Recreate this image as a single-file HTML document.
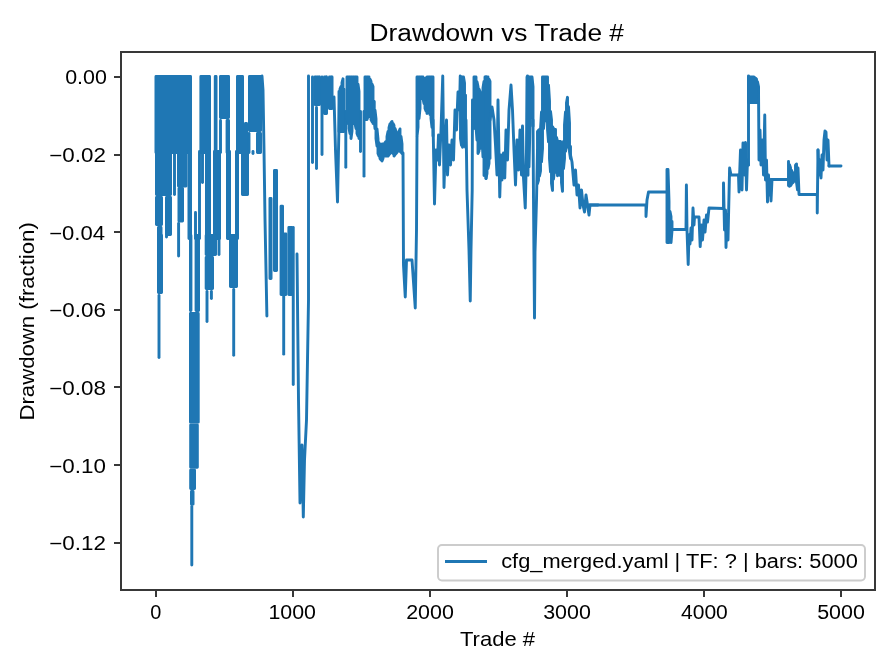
<!DOCTYPE html>
<html><head><meta charset="utf-8"><title>Drawdown vs Trade #</title><style>html,body{margin:0;padding:0;background:#fff;overflow:hidden}svg{display:block;will-change:transform}.s{fill:none;stroke:#1f77b4;stroke-width:2.92;stroke-linecap:round;stroke-linejoin:round}</style></head><body>
<svg width="896" height="672" viewBox="0 0 896 672">
<rect width="896" height="672" fill="#fff"/>
<g fill="#1f77b4" stroke="none">
<path class="s" d="M155.96 76.46 L155.96 152.54 L156.96 152.54 L156.96 76.46 L157.96 76.46 L157.96 152.54 L158.96 152.54 L158.96 76.46 L159.96 76.46 L159.96 152.54 L160.96 152.54 L160.96 76.46 L161.96 76.46 L161.96 152.54 L162.96 152.54 L162.96 76.46 L163.96 76.46 L163.96 152.54 L164.96 152.54 L164.96 76.46 L165.96 76.46 L165.96 152.54 L166.96 152.54 L166.96 76.46 L167.96 76.46 L167.96 152.54 L168.96 152.54 L168.96 76.46 L169.96 76.46 L169.96 152.54 L170.96 152.54 L170.96 76.46 L171.96 76.46 L171.96 152.54 L172.96 152.54 L172.96 76.46 L173.96 76.46 L173.96 152.54 L174.96 152.54 L174.96 76.46 L175.96 76.46 L175.96 152.54 L176.96 152.54 L176.96 76.46 L177.96 76.46 L177.96 152.54 L178.96 152.54 L178.96 76.46 L179.96 76.46 L179.96 152.54 L180.96 152.54 L180.96 76.46 L181.96 76.46 L181.96 152.54 L182.96 152.54 L182.96 76.46 L183.96 76.46 L183.96 152.54 L184.96 152.54 L184.96 76.46 L185.96 76.46 L185.96 152.54 L186.96 152.54 L186.96 76.46 L187.96 76.46 L187.96 152.54 L188.96 152.54 L188.96 76.46 L189.96 76.46 L189.96 152.54 L190.54 152.54 L190.54 76.46"/>
<path class="s" d="M200.86 76.46 L200.86 152.54 L201.86 152.54 L201.86 76.46 L202.86 76.46 L202.86 152.54 L203.86 152.54 L203.86 76.46 L204.86 76.46 L204.86 152.54 L205.86 152.54 L205.86 76.46 L206.86 76.46 L206.86 152.54 L207.86 152.54 L207.86 76.46 L208.86 76.46 L208.86 152.54 L209.54 152.54 L209.54 76.46"/>
<path class="s" d="M215.26 76.46 L215.26 152.54 L216.04 152.54 L216.04 76.46"/>
<path class="s" d="M220.46 76.46 L220.46 117.54 L221.46 117.54 L221.46 76.46 L222.46 76.46 L222.46 117.54 L223.46 117.54 L223.46 76.46 L224.46 76.46 L224.46 117.54 L225.46 117.54 L225.46 76.46 L226.46 76.46 L226.46 117.54 L227.46 117.54 L227.46 76.46 L228.46 76.46 L228.46 117.54 L228.54 117.54 L228.54 76.46"/>
<path class="s" d="M220.50 120.45V152.55"/>
<path class="s" d="M227.06 120.46 L227.06 152.54 L228.06 152.54 L228.06 120.46 L228.54 120.46 L228.54 152.54"/>
<path class="s" d="M237.46 76.46 L237.46 152.54 L238.46 152.54 L238.46 76.46 L239.46 76.46 L239.46 152.54 L240.46 152.54 L240.46 76.46 L241.46 76.46 L241.46 152.54 L242.46 152.54 L242.46 76.46 L242.54 76.46 L242.54 152.54"/>
<path class="s" d="M245.46 123.46 L245.46 152.54 L246.46 152.54 L246.46 123.46 L246.54 123.46 L246.54 152.54"/>
<path class="s" d="M249.46 76.46 L249.46 130.54 L250.46 130.54 L250.46 76.46 L251.46 76.46 L251.46 130.54 L252.46 130.54 L252.46 76.46 L253.46 76.46 L253.46 130.54 L254.46 130.54 L254.46 76.46 L255.46 76.46 L255.46 130.54 L256.46 130.54 L256.46 76.46 L257.46 76.46 L257.46 130.54 L258.46 130.54 L258.46 76.46 L259.46 76.46 L259.46 130.54 L260.46 130.54 L260.46 76.46 L260.54 76.46 L260.54 130.54"/>
<path class="s" d="M249.00 133.45V152.55"/>
<path class="s" d="M257.46 133.46 L257.46 152.54 L258.46 152.54 L258.46 133.46 L259.46 133.46 L259.46 152.54 L260.46 152.54 L260.46 133.46 L260.54 133.46 L260.54 152.54"/>
<path class="s" d="M156.46 151.46 L156.46 194.54 L157.46 194.54 L157.46 151.46 L158.46 151.46 L158.46 194.54 L159.46 194.54 L159.46 151.46 L160.46 151.46 L160.46 194.54 L161.46 194.54 L161.46 151.46 L162.46 151.46 L162.46 194.54 L163.46 194.54 L163.46 151.46 L164.46 151.46 L164.46 194.54 L165.46 194.54 L165.46 151.46 L166.46 151.46 L166.46 194.54 L167.46 194.54 L167.46 151.46 L168.46 151.46 L168.46 194.54 L169.46 194.54 L169.46 151.46 L170.46 151.46 L170.46 194.54 L170.54 194.54 L170.54 151.46"/>
<path class="s" d="M156.46 197.46 L156.46 224.54 L157.46 224.54 L157.46 197.46 L158.46 197.46 L158.46 224.54 L159.46 224.54 L159.46 197.46 L160.46 197.46 L160.46 224.54 L161.46 224.54 L161.46 197.46 L161.54 197.46 L161.54 224.54"/>
<path class="s" d="M158.46 227.46 L158.46 238.54 L159.46 238.54 L159.46 227.46 L160.46 227.46 L160.46 238.54 L161.04 238.54 L161.04 227.46"/>
<path class="s" d="M166.46 197.46 L166.46 234.54 L167.46 234.54 L167.46 197.46 L168.46 197.46 L168.46 234.54 L169.46 234.54 L169.46 197.46 L170.46 197.46 L170.46 234.54 L170.54 234.54 L170.54 197.46"/>
<path class="s" d="M174.50 151.45V194.55"/>
<path class="s" d="M178.46 151.46 L178.46 186.04 L179.46 186.04 L179.46 151.46 L180.46 151.46 L180.46 186.04 L181.46 186.04 L181.46 151.46 L182.46 151.46 L182.46 186.04 L183.46 186.04 L183.46 151.46 L184.46 151.46 L184.46 186.04 L185.46 186.04 L185.46 151.46 L186.04 151.46 L186.04 186.04"/>
<path class="s" d="M178.96 188.46 L178.96 221.04 L179.96 221.04 L179.96 188.46 L180.96 188.46 L180.96 221.04 L181.96 221.04 L181.96 188.46 L182.54 188.46 L182.54 221.04"/>
<path class="s" d="M178.60 223.45V255.95"/>
<path class="s" d="M188.96 151.46 L188.96 238.54 L189.96 238.54 L189.96 151.46 L190.54 151.46 L190.54 238.54"/>
<path class="s" d="M195.50 212.45V238.55"/>
<path class="s" d="M199.50 151.45V238.55"/>
<path class="s" d="M202.50 151.45V182.55"/>
<path class="s" d="M206.46 151.46 L206.46 238.54 L207.46 238.54 L207.46 151.46 L208.46 151.46 L208.46 238.54 L209.46 238.54 L209.46 151.46 L209.54 151.46 L209.54 238.54"/>
<path class="s" d="M214.46 151.46 L214.46 238.54 L215.46 238.54 L215.46 151.46 L216.46 151.46 L216.46 238.54 L217.46 238.54 L217.46 151.46 L218.46 151.46 L218.46 238.54 L219.46 238.54 L219.46 151.46 L219.54 151.46 L219.54 238.54"/>
<path class="s" d="M227.46 151.46 L227.46 238.54 L228.46 238.54 L228.46 151.46 L229.46 151.46 L229.46 238.54 L229.54 238.54 L229.54 151.46"/>
<path class="s" d="M236.46 151.46 L236.46 238.54 L237.46 238.54 L237.46 151.46 L237.54 151.46 L237.54 238.54"/>
<path class="s" d="M242.46 151.46 L242.46 194.54 L243.46 194.54 L243.46 151.46 L244.46 151.46 L244.46 194.54 L245.46 194.54 L245.46 151.46 L246.46 151.46 L246.46 194.54 L247.46 194.54 L247.46 151.46 L247.54 151.46 L247.54 194.54"/>
<path class="s" d="M253.00 151.45V153.55"/>
<path class="s" d="M158.46 235.46 L158.46 292.54 L159.46 292.54 L159.46 235.46 L160.46 235.46 L160.46 292.54 L161.46 292.54 L161.46 235.46 L161.54 235.46 L161.54 292.54"/>
<path class="s" d="M159.00 295.45V357.55"/>
<path class="s" d="M166.50 235.45V237.05"/>
<path class="s" d="M190.46 235.46 L190.46 310.54 L190.94 310.54 L190.94 235.46"/>
<path class="s" d="M196.06 235.46 L196.06 310.54 L197.06 310.54 L197.06 235.46 L198.06 235.46 L198.06 310.54 L198.54 310.54 L198.54 235.46"/>
<path class="s" d="M190.46 313.46 L190.46 422.14 L191.46 422.14 L191.46 313.46 L192.46 313.46 L192.46 422.14 L193.46 422.14 L193.46 313.46 L194.46 313.46 L194.46 422.14 L195.46 422.14 L195.46 313.46 L196.46 313.46 L196.46 422.14 L197.46 422.14 L197.46 313.46 L198.24 313.46 L198.24 422.14"/>
<path class="s" d="M190.66 425.06 L190.66 467.34 L191.66 467.34 L191.66 425.06 L192.66 425.06 L192.66 467.34 L193.66 467.34 L193.66 425.06 L194.66 425.06 L194.66 467.34 L195.66 467.34 L195.66 425.06 L196.66 425.06 L196.66 467.34 L197.34 467.34 L197.34 425.06"/>
<path class="s" d="M190.66 470.26 L190.66 488.54 L191.66 488.54 L191.66 470.26 L192.66 470.26 L192.66 488.54 L193.66 488.54 L193.66 470.26 L194.54 470.26 L194.54 488.54"/>
<path class="s" d="M191.46 491.46 L191.46 504.14 L192.46 504.14 L192.46 491.46 L193.04 491.46 L193.04 504.14"/>
<path class="s" d="M191.80 506.45V564.95"/>
<path class="s" d="M206.16 235.46 L206.16 254.54 L207.16 254.54 L207.16 235.46 L208.16 235.46 L208.16 254.54 L209.16 254.54 L209.16 235.46 L210.16 235.46 L210.16 254.54 L211.16 254.54 L211.16 235.46 L212.16 235.46 L212.16 254.54 L213.16 254.54 L213.16 235.46 L214.16 235.46 L214.16 254.54 L215.16 254.54 L215.16 235.46 L215.54 235.46 L215.54 254.54"/>
<path class="s" d="M206.16 257.46 L206.16 288.54 L207.16 288.54 L207.16 257.46 L208.16 257.46 L208.16 288.54 L209.16 288.54 L209.16 257.46 L210.16 257.46 L210.16 288.54 L211.16 288.54 L211.16 257.46 L212.16 257.46 L212.16 288.54 L212.54 288.54 L212.54 257.46"/>
<path class="s" d="M207.00 291.45V321.55"/>
<path class="s" d="M211.40 291.45V298.55"/>
<path class="s" d="M219.00 235.45V254.55"/>
<path class="s" d="M230.46 235.46 L230.46 286.54 L231.46 286.54 L231.46 235.46 L232.46 235.46 L232.46 286.54 L233.46 286.54 L233.46 235.46 L234.46 235.46 L234.46 286.54 L235.46 286.54 L235.46 235.46 L236.46 235.46 L236.46 286.54 L236.54 286.54 L236.54 235.46"/>
<path class="s" d="M233.70 289.45V355.35"/>
<path class="s" d="M262 76 L263 90 L264 150 L265 219 L266.9 316"/>
<path class="s" d="M269.96 198.46 L269.96 278.54 L270.96 278.54 L270.96 198.46 L271.04 198.46 L271.04 278.54"/>
<path class="s" d="M274.46 170.46 L274.46 270.54 L275.46 270.54 L275.46 170.46 L276.46 170.46 L276.46 270.54 L276.54 270.54 L276.54 170.46"/>
<path class="s" d="M281.06 206.16 L281.06 294.54 L282.06 294.54 L282.06 206.16 L282.54 206.16 L282.54 294.54"/>
<path class="s" d="M284.46 234.06 L284.46 294.54 L285.46 294.54 L285.46 234.06 L285.94 234.06 L285.94 294.54"/>
<path class="s" d="M288.86 227.46 L288.86 294.54 L289.86 294.54 L289.86 227.46 L290.86 227.46 L290.86 294.54 L291.54 294.54 L291.54 227.46"/>
<path class="s" d="M283.70 291.45V354.15"/>
<path class="s" d="M290.70 227.45V288.55"/>
<path class="s" d="M293.25 227.45V384.55"/>
<path class="s" d="M297 254 L298.5 400 L300 503 L301 470 L302 445 L303.3 517 L304.5 460 L306.5 420 L308.5 300 L308.5 76"/>
<path class="s" d="M312.50 76.95V162.55"/>
<path class="s" d="M314.96 76.96 L314.96 104.54 L315.96 104.54 L315.96 76.96 L316.96 76.96 L316.96 104.54 L317.96 104.54 L317.96 76.96 L318.96 76.96 L318.96 104.54 L319.54 104.54 L319.54 76.96"/>
<path class="s" d="M316.50 107.45V168.55"/>
<path class="s" d="M322.00 76.95V154.55"/>
<path class="s" d="M324.46 76.96 L324.46 113.54 L325.46 113.54 L325.46 76.96 L326.46 76.96 L326.46 113.54 L326.54 113.54 L326.54 76.96"/>
<path class="s" d="M329.46 76.96 L329.46 108.54 L330.46 108.54 L330.46 76.96 L331.46 76.96 L331.46 108.54 L332.04 108.54 L332.04 76.96"/>
<path class="s" d="M334 97 L335.5 150 L337.5 202 L338.5 150 L339.5 100"/>
<path class="s" d="M339.00 91.46 L339.00 131.54 L340.00 131.54 L340.00 88.96 L341.00 86.46 L341.00 131.54 L342.00 131.54 L342.00 82.66 L343.00 78.86 L343.00 131.54 L344.00 131.54 L344.00 89.21"/>
<path class="s" d="M345.80 111.45V167.25"/>
<path class="s" d="M347.00 76.96 L347.00 118.54 L348.00 123.54 L348.00 76.96 L349.00 76.96 L349.00 128.54 L350.00 133.54 L350.00 76.96 L351.00 76.96 L351.00 138.54 L352.00 131.04 L352.00 76.96 L353.00 76.96 L353.00 123.54 L354.00 123.54 L354.00 76.96 L355.00 76.96 L355.00 123.54 L356.00 128.54 L356.00 76.96 L357.00 76.96 L357.00 133.54 L358.00 136.04 L358.00 84.21 L359.00 91.46 L359.00 138.54"/>
<path class="s" d="M360.50 111.45V151.55"/>
<path class="s" d="M364.00 111.45V176.15"/>
<path class="s" d="M365.00 76.96 L365.00 119.54 L366.00 119.54 L366.00 76.96 L367.00 76.96 L367.00 119.54 L368.00 116.54 L368.00 76.96 L369.00 76.96 L369.00 113.54 L370.00 116.54 L370.00 79.21 L371.00 81.46 L371.00 119.54 L372.00 121.54 L372.00 83.96 L373.00 86.46 L373.00 123.54 L374.00 118.54 L374.00 101.46"/>
<path class="s" d="M374.00 101.46 L374.00 118.54 L375.00 128.54 L375.00 110.21 L376.00 118.96 L376.00 138.54 L377.00 146.04 L377.00 128.96 L378.00 138.96 L378.00 153.54 L379.00 156.04 L379.00 142.71 L380.00 146.46 L380.00 158.54 L381.00 159.79 L381.00 145.21 L382.00 143.96 L382.00 161.04 L383.00 158.54 L383.00 143.96 L384.00 143.96 L384.00 156.04 L385.00 156.04 L385.00 142.71 L386.00 141.46 L386.00 156.04 L387.00 156.04 L387.00 136.46 L388.00 131.46 L388.00 156.04 L389.00 154.79 L389.00 127.71 L390.00 123.96 L390.00 153.54 L391.00 152.29 L391.00 122.71 L392.00 121.46 L392.00 151.04 L393.00 153.54 L393.00 123.46 L394.00 125.46 L394.00 156.04 L395.00 154.79 L395.00 128.46 L396.00 131.46 L396.00 153.54 L397.00 152.29 L397.00 132.71 L398.00 133.96 L398.00 151.04 L399.00 151.04 L399.00 131.46 L400.00 128.96 L400.00 151.04 L401.00 152.29 L401.00 136.46 L402.00 143.96 L402.00 153.54"/>
<path class="s" d="M403 153 L403.5 265 L405.25 297 L406.5 260 L412 260 L415.25 308 L416.5 230 L417 137"/>
<path class="s" d="M417.00 76.96 L417.00 136.04 L418.00 127.29 L418.00 76.96 L419.00 76.96 L419.00 118.54 L420.00 108.54 L420.00 76.96 L421.00 76.96 L421.00 98.54 L422.00 98.54 L422.00 76.96 L423.00 76.96 L423.00 98.54 L424.00 103.54 L424.00 78.21 L425.00 79.46 L425.00 108.54 L426.00 111.04 L426.00 78.21 L427.00 76.96 L427.00 113.54 L428.00 112.04 L428.00 76.96 L429.00 76.96 L429.00 110.54 L430.00 114.54 L430.00 76.96 L431.00 76.96 L431.00 118.54 L432.00 127.29 L432.00 76.96 L433.00 76.96 L433.00 136.04"/>
<path class="s" d="M433 120 L434.5 204 L436 150 L437.5 160 L438.5 135 L439.5 165 L441 130 L442.75 76 L444 187.5 L445.5 140 L446.5 120 L447.5 175 L449 145 L450.5 165 L452 140 L453.5 160 L455 110 L456.5 130 L458 92 L459.5 110 L460.25 76"/>
<path class="s" d="M460.50 76.96 L460.50 138.54 L461.50 145.21 L461.50 76.96 L462.50 76.96 L462.50 147.29 L463.50 144.79 L463.50 76.96 L464.50 83.08 L464.50 144.79 L465.50 147.29 L465.50 95.33"/>
<path class="s" d="M466 120 L467 190 L469 250 L470.25 301 L471 250 L472.2 190 L472.5 100"/>
<path class="s" d="M474.00 76.96 L474.00 128.54 L475.00 127.54 L475.00 76.96 L476.00 76.96 L476.00 126.54 L477.00 140.04 L477.00 81.71 L478.00 86.46 L478.00 153.54 L479.00 151.04 L479.00 88.96 L480.00 91.46 L480.00 148.54 L481.00 143.54 L481.00 92.71 L482.00 93.96 L482.00 138.54 L483.00 157.04 L483.00 87.71 L484.00 81.46 L484.00 175.54 L485.00 148.54 L485.00 76.96 L486.00 76.96 L486.00 178.54"/>
<path class="s" d="M486.00 76.96 L486.00 178.54 L487.00 173.54 L487.00 76.96 L488.00 76.96 L488.00 168.54 L489.00 163.54 L489.00 79.21 L490.00 81.46 L490.00 158.54"/>
<path class="s" d="M490 120 L492 107 L494 120 L495.5 145 L497 175 L498 100 L499.75 197 L501 155 L502 180 L503.5 153 L504.75 178 L506 130 L507.5 160 L509 110 L511 85 L512.5 110 L514 150 L515.5 185 L517 140 L518.5 170 L520 130 L521.5 175 L522.5 126 L523.5 178 L525.25 208 L526.5 150 L527.5 76"/>
<path class="s" d="M527.00 76.96 L527.00 148.54 L528.00 175.21 L528.00 76.96 L529.00 76.96 L529.00 166.87 L530.00 123.54 L530.00 76.96 L531.00 76.96 L531.00 117.54 L532.00 111.54 L532.00 76.96 L533.00 86.63 L533.00 126.21"/>
<path class="s" d="M533 120 L533.5 200 L534.5 318 L535 252 L536.5 200 L537.5 150"/>
<path class="s" d="M537.50 131.46 L537.50 183.54 L538.50 180.21 L538.50 130.13 L539.50 129.46 L539.50 176.04 L540.50 171.04 L540.50 129.46 L541.50 111.96 L541.50 161.87 L542.50 148.54 L542.50 76.96 L543.50 76.96 L543.50 128.54 L544.50 118.04 L544.50 76.96 L545.50 76.96 L545.50 117.04 L546.50 120.79 L546.50 76.96 L547.50 76.96 L547.50 129.29 L548.50 141.87 L548.50 85.13 L549.50 101.46 L549.50 158.54 L550.50 171.87 L550.50 111.46 L551.50 120.03 L551.50 183.18 L552.50 190.41 L552.50 126.65 L553.50 128.52 L553.50 179.16 L554.50 170.21 L554.50 129.46 L555.50 129.46 L555.50 163.54 L556.50 172.21 L556.50 137.46 L557.50 141.46 L557.50 175.79 L558.50 174.29 L558.50 141.46 L559.50 141.46 L559.50 174.29 L560.50 175.79 L560.50 141.46 L561.50 145.03 L561.50 182.61 L562.50 191.27 L562.50 150.55 L563.50 141.46 L563.50 168.54 L564.50 158.54 L564.50 124.79 L565.50 111.89 L565.50 151.37 L566.50 147.02 L566.50 102.76 L567.50 97.34 L567.50 144.13 L568.50 147.07 L568.50 106.75 L569.50 123.13 L569.50 151.87 L570.50 158.54 L570.50 146.46"/>
<path class="s" d="M570.5 155 L572 162 L574 185 L575.5 170 L577 195 L578.5 185 L580 208 L581.5 190 L583 205 L584.5 212 L586 195 L587.5 205 L589 215 L590 205 L598 205"/>
<path class="s" d="M589 205 L646 205 L646 216.5 L647 200 L648.5 192 L667.5 192"/>
<path class="s" d="M667.00 169.46 L667.00 242.54 L668.00 242.54 L668.00 169.46 L669.00 201.46 L669.00 242.54 L670.00 238.54 L670.00 211.46 L671.00 216.46 L671.00 242.54 L672.00 230.54 L672.00 221.46"/>
<path class="s" d="M672 229.5 L686 229.5 L686.4 185 L687 230 L688.2 264.5 L689 235 L690 244 L691 228 L692 240 L693 208 L694 225 L694.5 217 L699 217 L700.2 246.6 L701.5 225 L702.5 240 L704 220 L705 232 L706.5 215 L707.5 222 L709 208 L723.5 208.5"/>
<path class="s" d="M723.5 208.5 L723.5 183 L724.5 230 L725.5 210 L726 247.5 L727 215 L728 240 L729.6 168 L731 175 L738.5 175"/>
<path class="s" d="M738.5 175 L739 192 L740.5 150 L742 190 L743 143 L744.5 175 L745.5 142.5 L746.5 190 L747.5 160 L748.5 165"/>
<path class="s" d="M748.5 165 L748.5 76"/>
<path class="s" d="M748.50 76.96 L748.50 102.54 L749.50 102.54 L749.50 76.96 L750.50 76.96 L750.50 102.54 L751.50 102.54 L751.50 76.96 L752.50 76.96 L752.50 102.54 L753.50 102.54 L753.50 76.96 L754.50 77.38 L754.50 102.54 L755.50 102.54 L755.50 78.21 L756.50 79.04 L756.50 102.54 L757.50 102.54 L757.50 81.79 L758.50 86.46 L758.50 102.54"/>
<path class="s" d="M758.5 88 L759 160 L760 130 L761 165 L762.5 140 L763.5 175 L764.75 115 L765.5 180 L766.5 160 L767.5 202 L768.5 175 L769.5 195 L770.5 180 L771 201 L772 179.5"/>
<path class="s" d="M771 179.5 L788.5 179.5"/>
<path class="s" d="M788.50 161.46 L788.50 185.54 L789.50 186.21 L789.50 164.79 L790.50 167.71 L790.50 185.79 L791.50 184.29 L791.50 170.21 L792.50 172.71 L792.50 183.04 L793.50 182.04 L793.50 175.21 L794.50 172.71 L794.50 180.79 L795.50 179.29 L795.50 165.21 L796.50 163.96 L796.50 182.29 L797.50 189.79 L797.50 168.96"/>
<path class="s" d="M798 168 L799 194.5 L817.25 194.5 L817.25 213 L818 150"/>
<path class="s" d="M818 150 L819 175 L820 160 L821 178 L822 155 L823 170 L824 140 L825 131 L826 132 L827 160 L828 140 L829 166"/>
<path class="s" d="M829 166 L841 166"/>
</g>
<g fill="#383838">
<rect x="120" y="51" width="756" height="2"/>
<rect x="120" y="589" width="756" height="2"/>
<rect x="120" y="51" width="2" height="540"/>
<rect x="874" y="51" width="2" height="540"/>
<rect x="155" y="591" width="2" height="6"/>
<rect x="292" y="591" width="2" height="6"/>
<rect x="429" y="591" width="2" height="6"/>
<rect x="566" y="591" width="2" height="6"/>
<rect x="703" y="591" width="2" height="6"/>
<rect x="840" y="591" width="2" height="6"/>
<rect x="114" y="76" width="6" height="2"/>
<rect x="114" y="154" width="6" height="2"/>
<rect x="114" y="231" width="6" height="2"/>
<rect x="114" y="309" width="6" height="2"/>
<rect x="114" y="386" width="6" height="2"/>
<rect x="114" y="464" width="6" height="2"/>
<rect x="114" y="542" width="6" height="2"/>
</g>
<rect x="438" y="545" width="427" height="35.5" rx="3.9" ry="3.9" fill="#fff" fill-opacity="0.8" stroke="#cccccc" stroke-width="1.94"/>
<rect x="445" y="560" width="42" height="3" fill="#1f77b4"/>
<g font-family="Liberation Sans, sans-serif" fill="#000">
<text x="369.60" y="40.80" font-size="23.30" textLength="254.42" lengthAdjust="spacingAndGlyphs">Drawdown vs Trade #</text>
<text x="460.00" y="645.80" font-size="19.44" textLength="75.00" lengthAdjust="spacingAndGlyphs">Trade #</text>
<text x="34.00" y="420.60" font-size="19.65" textLength="198.43" lengthAdjust="spacingAndGlyphs" transform="rotate(-90 34.00 420.60)">Drawdown (fraction)</text>
<text x="501.20" y="568.00" font-size="21.03" textLength="356.61" lengthAdjust="spacingAndGlyphs">cfg_merged.yaml | TF: ? | bars: 5000</text>
<text x="65.20" y="83.80" font-size="19.44" textLength="41.68" lengthAdjust="spacingAndGlyphs">0.00</text>
<text x="49.20" y="161.80" font-size="19.44" textLength="56.65" lengthAdjust="spacingAndGlyphs">−0.02</text>
<text x="49.20" y="239.60" font-size="19.44" textLength="55.81" lengthAdjust="spacingAndGlyphs">−0.04</text>
<text x="49.20" y="316.80" font-size="19.44" textLength="56.65" lengthAdjust="spacingAndGlyphs">−0.06</text>
<text x="49.20" y="394.60" font-size="19.44" textLength="56.65" lengthAdjust="spacingAndGlyphs">−0.08</text>
<text x="49.20" y="472.60" font-size="19.44" textLength="56.65" lengthAdjust="spacingAndGlyphs">−0.10</text>
<text x="49.20" y="549.80" font-size="19.44" textLength="56.65" lengthAdjust="spacingAndGlyphs">−0.12</text>
<text x="150.20" y="618.80" font-size="19.44" textLength="11.08" lengthAdjust="spacingAndGlyphs">0</text>
<text x="268.40" y="618.80" font-size="19.44" textLength="47.51" lengthAdjust="spacingAndGlyphs">1000</text>
<text x="406.20" y="618.80" font-size="19.44" textLength="47.67" lengthAdjust="spacingAndGlyphs">2000</text>
<text x="543.20" y="618.80" font-size="19.44" textLength="47.67" lengthAdjust="spacingAndGlyphs">3000</text>
<text x="681.00" y="618.80" font-size="19.44" textLength="46.82" lengthAdjust="spacingAndGlyphs">4000</text>
<text x="817.20" y="618.80" font-size="19.44" textLength="47.67" lengthAdjust="spacingAndGlyphs">5000</text>
</g>
</svg>
</body></html>
